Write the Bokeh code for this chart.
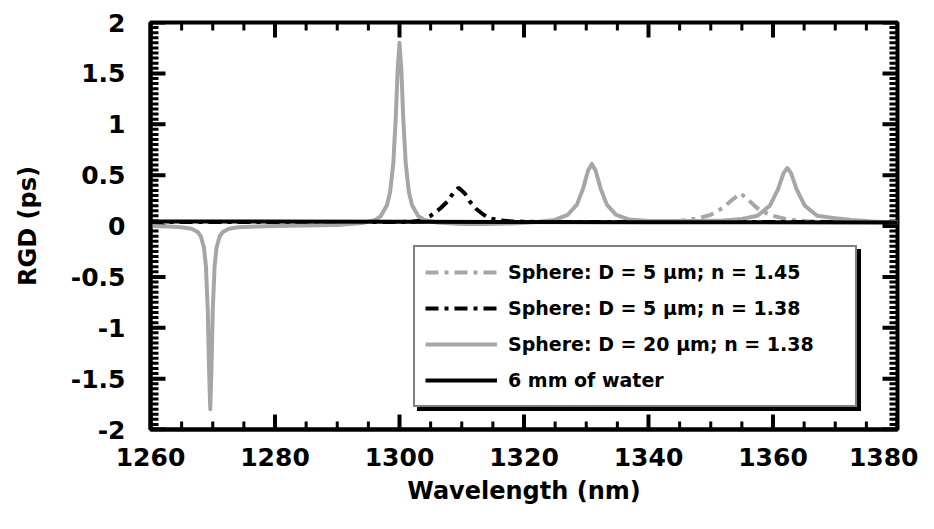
import math
from bokeh.plotting import figure
from bokeh.models import (Range1d, FixedTicker, Legend, LegendItem,
                          CustomJSTickFormatter)
from bokeh.embed import file_html
from bokeh.resources import INLINE

# ---- data ----
x_ticks = [1260, 1280, 1300, 1320, 1340, 1360, 1380]
x_minor = [1260 + 5 * i for i in range(25)]
y_ticks = [-2, -1.5, -1, -0.5, 0, 0.5, 1, 1.5, 2]
y_minor = [round(-2 + 0.05 * i, 2) for i in range(81)]

# Sphere: D = 20 um; n = 1.38 (gray solid)
g_x = [1260, 1263, 1265, 1266.6, 1267.6, 1268.1, 1268.6, 1268.9, 1269.2, 1269.4, 1269.6,
       1269.8, 1270.0, 1270.3, 1270.6, 1271.1, 1271.6, 1272.6, 1274, 1277, 1280, 1285,
       1290, 1294, 1296, 1297, 1298, 1298.5, 1299, 1299.4, 1299.7, 1300, 1300.3, 1300.6,
       1301, 1301.5, 1302, 1303, 1304, 1306, 1310, 1314, 1318, 1322, 1325, 1327, 1328.5,
       1329.5, 1330.3, 1330.9, 1331.5, 1332.3, 1333.3, 1334.8, 1336.8, 1340, 1344, 1348,
       1352, 1355, 1357.5, 1359.5, 1360.8, 1361.7, 1362.3, 1362.9, 1363.8, 1365.1, 1367.1,
       1369.6, 1372.6, 1376, 1380]
g_y = [0.0, -0.005, -0.012, -0.027, -0.06, -0.103, -0.217, -0.393, -0.83, -1.39, -1.8,
       -1.39, -0.83, -0.393, -0.217, -0.103, -0.06, -0.027, -0.012, -0.004, 0.0, 0.004,
       0.01, 0.03, 0.056, 0.098, 0.207, 0.337, 0.614, 1.063, 1.533, 1.8, 1.533, 1.063,
       0.614, 0.337, 0.207, 0.098, 0.06, 0.035, 0.02, 0.02, 0.025, 0.04, 0.06, 0.11, 0.21,
       0.37, 0.545, 0.61, 0.545, 0.37, 0.21, 0.11, 0.065, 0.05, 0.05, 0.05,
       0.055, 0.07, 0.1, 0.2, 0.36, 0.52, 0.57, 0.52, 0.36, 0.2, 0.1,
       0.08, 0.06, 0.045, 0.035]

# Sphere: D = 5 um; n = 1.38 (black dash-dot)
b_x = [1260, 1300, 1302, 1303.5, 1305, 1306.5, 1307.7, 1308.7, 1309.5, 1310.5, 1311.3,
       1312.3, 1313.5, 1314.6, 1316, 1318, 1322, 1380]
b_y = [0.04, 0.04, 0.042, 0.055, 0.1, 0.17, 0.24, 0.33, 0.375, 0.32, 0.24,
       0.17, 0.11, 0.075, 0.055, 0.045, 0.04, 0.04]

# Sphere: D = 5 um; n = 1.45 (gray dash-dot)
s_x = [1260, 1340, 1344, 1346, 1348, 1350, 1352, 1353.5, 1354.8, 1356, 1357, 1358,
       1360, 1362, 1364, 1367, 1372, 1380]
s_y = [0.04, 0.04, 0.045, 0.058, 0.075, 0.11, 0.18, 0.26, 0.32, 0.26, 0.2, 0.15,
       0.1, 0.07, 0.05, 0.042, 0.04, 0.04]

# 6 mm of water (black solid)
w_x = [1260, 1300, 1340, 1380]
w_y = [0.045, 0.042, 0.038, 0.035]

labels = ["Sphere: D = 5 \u03bcm; n = 1.45",
          "Sphere: D = 5 \u03bcm; n = 1.38",
          "Sphere: D = 20 \u03bcm; n = 1.38",
          "6 mm of water"]

GRAY = "#a6a6a6"
FONT = "DejaVu Sans"

X0, X1, Y0, Y1 = 1260, 1380, -2, 2
W, H = 918, 513
BL, BR, BT, BB = 150, 21, 22, 84

p = figure(width=W, height=H, output_backend="svg", toolbar_location=None,
           x_range=Range1d(X0, X1), y_range=Range1d(Y0, Y1),
           min_border_left=BL, min_border_right=BR, min_border_top=BT,
           min_border_bottom=BB)
p.xgrid.visible = False
p.ygrid.visible = False
p.outline_line_color = "black"
p.outline_line_width = 4
p.background_fill_color = "white"
p.border_fill_color = "white"

yfmt = CustomJSTickFormatter(code="return tick.toString();")

def style_axis(ax):
    ax.axis_line_width = 4
    ax.axis_line_color = "black"
    ax.major_tick_in = 0
    ax.major_tick_out = 0
    ax.minor_tick_in = 0
    ax.minor_tick_out = 0
    ax.major_label_text_font = FONT
    ax.major_label_text_font_style = "bold"
    ax.major_label_text_font_size = "25px"
    ax.major_label_text_color = "black"
    ax.axis_label_text_font = FONT
    ax.axis_label_text_font_style = "bold"
    ax.axis_label_text_font_size = "24px"
    ax.axis_label_text_color = "black"

xa = p.xaxis[0]
xa.ticker = FixedTicker(ticks=x_ticks, minor_ticks=x_minor)
style_axis(xa)
xa.axis_label = "Wavelength (nm)"
xa.major_label_standoff = 18
xa.axis_label_standoff = 8

ya = p.yaxis[0]
ya.ticker = FixedTicker(ticks=y_ticks, minor_ticks=y_minor)
ya.formatter = yfmt
style_axis(ya)
ya.axis_label = "RGD (ps)"
ya.major_label_standoff = 25
ya.axis_label_standoff = 26

# ---- inward ticks: dash markers centred on the frame edges (outer half clipped) ----
def edge_points(xs, ys):
    px, py, ang = [], [], []
    for x in xs:
        px += [x, x]; py += [Y0, Y1]; ang += [math.pi / 2, math.pi / 2]
    for y in ys:
        px += [X0, X1]; py += [y, y]; ang += [0.0, 0.0]
    return px, py, ang

mx, my, ma = edge_points(x_ticks, y_ticks)
nx, ny, na = edge_points(x_minor, y_minor)
p.scatter(mx, my, angle=ma, marker="dash", size=30, line_color="black",
          line_width=4)
p.scatter(nx, ny, angle=na, marker="dash", size=16, line_color="black",
          line_width=3)

r_s = p.line(s_x, s_y, line_color=GRAY, line_width=4, line_dash="13 6 4 6")
r_b = p.line(b_x, b_y, line_color="black", line_width=4, line_dash="13 6 4 6")
r_g = p.line(g_x, g_y, line_color=GRAY, line_width=4, line_join="round")
r_w = p.line(w_x, w_y, line_color="black", line_width=4)

def make_legend(shadow):
    items = [LegendItem(label=labels[0], renderers=[r_s]),
             LegendItem(label=labels[1], renderers=[r_b]),
             LegendItem(label=labels[2], renderers=[r_g]),
             LegendItem(label=labels[3], renderers=[r_w])]
    lg = Legend(items=items, location=(267, 18) if shadow else (263, 22),
                orientation="vertical")
    lg.label_text_font = FONT
    lg.label_text_font_style = "bold"
    lg.label_text_font_size = "19px"
    lg.label_text_color = "black"
    lg.glyph_width = 72
    lg.glyph_height = 30
    lg.label_height = 30
    lg.label_width = 337
    lg.label_standoff = 11
    lg.spacing = 6
    lg.padding = 10
    lg.margin = 0
    lg.border_line_color = "black"
    lg.border_line_width = 2
    lg.background_fill_color = "black" if shadow else "white"
    lg.background_fill_alpha = 1.0
    return lg

p.add_layout(make_legend(True))
p.add_layout(make_legend(False))

open("out.html", "w").write(file_html(p, INLINE))
